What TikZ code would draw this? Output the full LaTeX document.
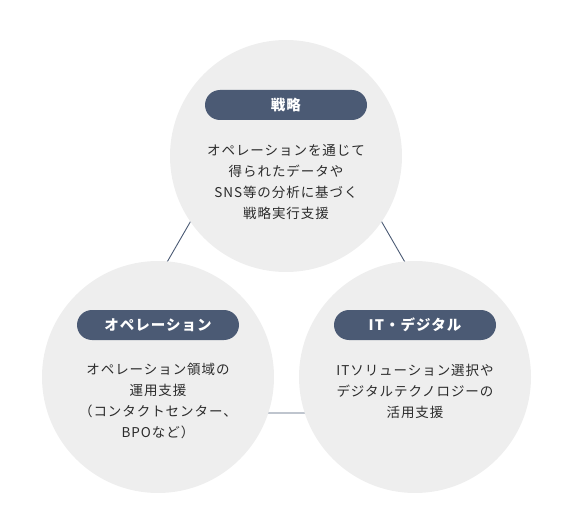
\documentclass[tikz,border=0pt]{standalone}
\usepackage{fontspec}
\setmainfont{Noto Sans CJK JP}[LetterSpace=7]
\usepackage{tikz}
\definecolor{ardoise}{HTML}{4B5A74}
\definecolor{disque}{HTML}{EEEEEE}
\definecolor{encre}{HTML}{2B2B2B}

\begin{document}
\begin{tikzpicture}[x=1pt,y=-1pt,bulle/.style={circle, fill=disque, minimum size=232pt, inner sep=0pt},
    etiquette/.style={rectangle, rounded corners=15pt, fill=ardoise, text=white,
    minimum width=162pt, minimum height=30pt, inner sep=0pt,
    font=\fontsize{14.5}{16}\selectfont\bfseries},
    texte/.style={align=center, text=encre, font=\fontsize{13.5}{21}\selectfont},
    lien/.style={draw=ardoise, line width=0.9pt}]

	\useasboundingbox (0,0) rectangle (571,532);

	\coordinate (sommet) at (286,56);
	\coordinate (coin g) at (80,413);
	\coordinate (coin d) at (492,413);
	\draw [lien] (sommet) -- (coin g) -- (coin d) -- cycle;

	\node [bulle] (strategie) at (286,156) {};
	\node [bulle] (operation) at (158,377) {};
	\node [bulle] (numerique) at (415,377) {};

	\node [etiquette] (e strategie) at (286,105) {戦略};
	\node [texte] (t strategie) at (286,182)
	  {オペレーションを通じて\\得られたデータや\\SNS等の分析に基づく\\戦略実行支援};

	\node [etiquette] (e operation) at (158,325) {オペレーション};
	\node [texte] (t operation) at (158,401)
	  {オペレーション領域の\\運用支援\\（コンタクトセンター、\\BPOなど）};

	\node [etiquette] (e numerique) at (415,325) {IT・デジタル};
	\node [texte] (t numerique) at (415,391)
	  {ITソリューション選択や\\デジタルテクノロジーの\\活用支援};

\end{tikzpicture}
\end{document}
